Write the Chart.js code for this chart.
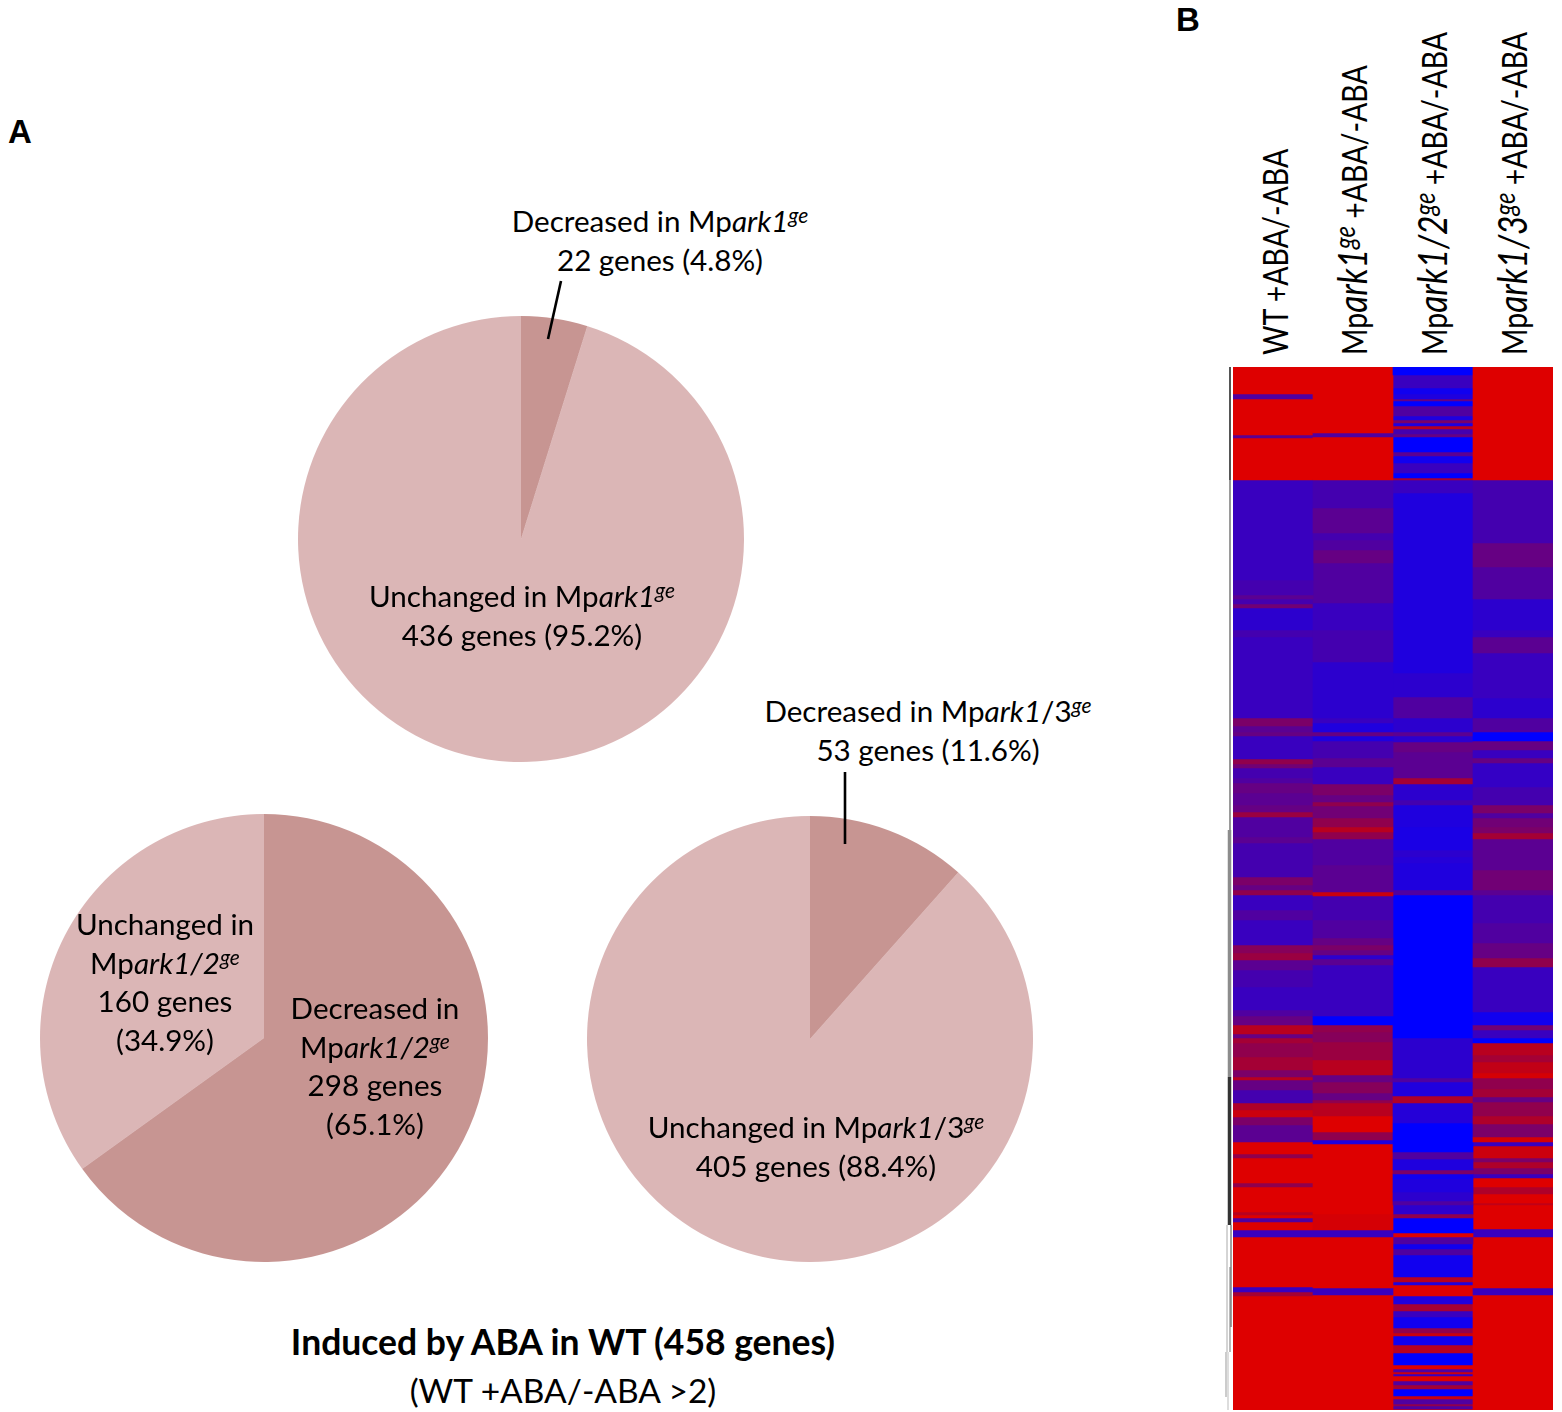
<!DOCTYPE html>
<html>
<head>
<meta charset="utf-8">
<script src="https://cdn.jsdelivr.net/npm/chart.js@4"></script>
<style>
  html, body { margin: 0; padding: 0; background: #fff; }
  #page { position: relative; width: 1562px; height: 1412px; overflow: hidden; font-family: Lato, sans-serif; color: #000; }
  canvas { position: absolute; }
  .note { position: absolute; transform: translateX(-50%); text-align: center; white-space: nowrap; font-size: 29.6px; line-height: 38.6px; }
  .note sup { font-size: 21px; line-height: 0; font-style: italic; vertical-align: 9px; }
  .panel { position: absolute; font-family: "Liberation Sans", sans-serif; font-weight: bold; font-size: 33px; line-height: 33px; }
  .col-label { position: absolute; top: 355px; transform-origin: 0 0; transform: rotate(-90deg) scale(1, 1.2) translateY(-50%); white-space: nowrap; font-size: 28.5px; line-height: 40px; }
  .col-label i { font-size: 33.5px; }
  .col-label sup i { font-size: 24px; }
  .col-label sup { line-height: 0; vertical-align: 10px; }
  #title { font-weight: bold; font-size: 35.5px; }
  #subtitle { font-size: 33.5px; }
  svg { position: absolute; left: 0; top: 0; }
</style>
</head>
<body>
<div id="page"></div>
<script>
const pieCategories = [`Decreased`, `Unchanged`];
const ark1Genes = [22, 436];
const ark12Genes = [298, 160];
const ark13Genes = [53, 405];

const DARK = `#c79592`;
const LIGHT = `#dbb6b6`;

const heatColumns = [`WT +ABA/-ABA`, `Mpark1ge +ABA/-ABA`, `Mpark1/2ge +ABA/-ABA`, `Mpark1/3ge +ABA/-ABA`];
const heatLabels = [
  `WT +ABA/-ABA`,
  `Mp<i>ark1</i><sup><i>ge</i></sup> +ABA/-ABA`,
  `Mp<i>ark1/2</i><sup><i>ge</i></sup> +ABA/-ABA`,
  `Mp<i>ark1/3</i><sup><i>ge</i></sup> +ABA/-ABA`
];

// heatmap bands: [row where the band ends, level 0 (blue) .. 10 (red)]
const wtBands = [[27,10],[32,3],[68,10],[71,3.5],[113,10],[213,2],[228,2.5],[232,3.5],[237,2.5],[241,4.5],[263,1.5],[270,2.5],
  [351,2],[359,5],[365,3.5],[369,4],[392,2],[397,6],[401,4.5],[411,2.5],[416,3],[426,4],[438,3.5],[445,4],[450,6.5],[470,3],
  [476,3.5],[510,2.5],[518,5],[523,4],[528,6],[543,2],[553,3],[578,2],[586,5.5],[593,6.5],[603,3.5],[620,2.5],[643,2],[649,3],
  [658,4],[667,8],[671,4],[676,7],[690,6],[703,7],[710,5],[713,8],[723,4],[736,2.5],[743,7.5],[750,9],[758,5],[775,3.5],
  [787,10],[791,6],[816,10],[820,6],[845,10],[848,8],[851,10],[855,3],[863,10],[870,2],[920,10],[925,2],[929,7],[1043,10]];
const ark1Bands = [[66,10],[70,3],[113,10],[141,2.5],[166,3.5],[173,2.5],[183,3],[196,4],[236,3],[263,2],[295,2.5],[351,1.5],
  [356,2],[365,1],[369,4],[374,1],[391,2.5],[400,3.5],[417,2],[428,5],[435,4],[439,6],[451,4.5],[460,6],[465,8],[472,6],[498,3],
  [525,3.5],[529,9],[553,2.5],[571,3],[578,4],[583,5],[588,4],[592,1.5],[598,3.5],[649,2],[658,0],[665,6],[675,5.5],[693,6.5],
  [708,8],[715,4],[726,5.5],[733,4],[736,6],[749,8],[765,10],[773,6],[777,1],[847,10],[863,9.5],[870,2],[921,10],[928,2],[1043,10]];
const ark12Bands = [[8,0],[21,2],[27,0.5],[32,1],[34,4],[39,0],[49,3],[53,1],[56,5],[59,1],[62,8],[67,2.5],[70,4],[85,0],[89,3.5],
  [96,0.5],[106,2],[111,0],[113,7],[126,2],[306,1],[330,1.5],[351,3],[365,1.5],[369,3.5],[375,1.5],[385,4],[411,3.5],[417,7],
  [433,1.5],[438,2.5],[460,1],[483,0.8],[490,1.5],[496,1.2],[523,1],[528,3],[671,0],[711,1.5],[715,3],[729,1],[736,7.5],[756,1.2],
  [785,0],[792,3],[803,1],[807,5],[812,0.5],[825,1],[834,1.5],[838,3],[847,1.5],[851,6],[866,0],[870,10],[877,3],[882,0.5],
  [888,3],[910,0.5],[915,8],[918,1],[929,10],[937,1],[944,7],[950,2],[961,0.5],[966,6],[969,9],[978,0.5],[986,8],[998,0],
  [1002,10],[1005,3],[1007,9],[1009,2],[1014,10],[1018,3],[1022,7],[1029,0],[1032,9],[1037,3],[1039,6],[1042,3],[1043,8]];
const ark13Bands = [[113,10],[176,2.5],[200,4],[232,3],[263,1.5],[270,2],[286,3.5],[331,2],[351,1.5],[365,3],[374,0],[383,4],
  [391,2],[396,4],[420,1.8],[438,2.5],[446,5],[451,3],[460,4.5],[466,5],[472,7],[503,3.5],[523,4.5],[528,3.5],[556,2.5],[576,3],
  [591,4],[600,6],[645,2],[658,0.5],[663,4.5],[671,2],[676,0],[688,8],[695,7],[706,8.5],[711,9.5],[722,6],[730,7],[735,4],[749,6],
  [757,7.5],[770,5],[775,9.5],[779,2],[791,9],[795,5],[801,7.5],[807,5],[811,2],[820,10],[827,7.5],[836,10],[838,8.5],[862,10],
  [870,2],[921,10],[928,2],[1043,10]];

// dendrogram beside the heatmap: [first row, last row, colour, line width, distance from the heatmap]
const treeLines = [[0,113,`#555555`,2,3],[113,463,`#9a9a9a`,2,3],[463,710,`#8c8c8c`,3.5,3.5],[710,858,`#333333`,3.5,3.5],
  [858,985,`#aaaaaa`,1,6],[858,960,`#444444`,1,2],[900,985,`#777777`,1,3],[985,1043,`#bbbbbb`,1,5],[985,1030,`#999999`,1,7]];

const page = document.getElementById(`page`);

function addNote(x, y, lines, id) {
  const el = document.createElement(`div`);
  el.className = `note`;
  if (id) el.id = id;
  el.style.left = `${x}px`;
  el.style.top = `${y}px`;
  el.innerHTML = lines.join(`<br>`);
  page.appendChild(el);
}

function addPie(cx, cy, r, values, colors) {
  const canvas = document.createElement(`canvas`);
  canvas.style.left = `${cx - r}px`;
  canvas.style.top = `${cy - r}px`;
  page.appendChild(canvas);
  return new Chart(canvas, {
    type: `pie`,
    data: {
      labels: pieCategories,
      datasets: [{data: values, backgroundColor: colors, borderWidth: 0}]
    },
    options: {
      responsive: false,
      animation: false,
      devicePixelRatio: 2,
      layout: {padding: 0},
      plugins: {legend: {display: false}, tooltip: {enabled: false}}
    },
    plugins: [{id: `size`, beforeInit(chart) { chart.resize(r * 2, r * 2); }}]
  });
}

addPie(521, 539, 223, ark1Genes, [DARK, LIGHT]);
addPie(264, 1038, 224, ark12Genes, [DARK, LIGHT]);
addPie(810, 1039, 223, ark13Genes, [DARK, LIGHT]);

// heatmap: one floating-bar dataset per band index
const levelColor = (level) => {
  const t = level / 10;
  return `rgb(${Math.round(222 * Math.pow(t, 0.85))},0,${Math.round(255 * Math.pow(1 - t, 1.3))})`;
};
const heatBands = [wtBands, ark1Bands, ark12Bands, ark13Bands];
const bandCount = Math.max(...heatBands.map((b) => b.length));
const heatDatasets = [];
for (let i = 0; i < bandCount; i++) {
  heatDatasets.push({
    data: heatBands.map((bands) => (bands[i] ? [i ? bands[i - 1][0] : 0, bands[i][0]] : null)),
    backgroundColor: heatBands.map((bands) => (bands[i] ? levelColor(bands[i][1]) : `transparent`)),
    borderWidth: 0,
    borderSkipped: false,
    grouped: false,
    barPercentage: 1,
    categoryPercentage: 1
  });
}

const heatCanvas = document.createElement(`canvas`);
heatCanvas.width = 329;
heatCanvas.height = 1043;
heatCanvas.style.left = `1225px`;
heatCanvas.style.top = `367px`;
page.appendChild(heatCanvas);

const treePlugin = {
  id: `tree`,
  afterDraw(chart) {
    const {ctx, scales: {y}, chartArea} = chart;
    ctx.save();
    treeLines.forEach(([from, to, color, width, gap]) => {
      ctx.strokeStyle = color;
      ctx.lineWidth = width;
      ctx.beginPath();
      ctx.moveTo(chartArea.left - gap, y.getPixelForValue(from));
      ctx.lineTo(chartArea.left - gap, y.getPixelForValue(to));
      ctx.stroke();
    });
    ctx.restore();
  }
};

new Chart(heatCanvas, {
  type: `bar`,
  data: {labels: heatColumns, datasets: heatDatasets},
  options: {
    responsive: false,
    animation: false,
    layout: {padding: {left: 8, right: 1, top: 0, bottom: 0}},
    plugins: {legend: {display: false}, tooltip: {enabled: false}},
    scales: {
      x: {display: false},
      y: {display: false, reverse: true, min: 0, max: 1043}
    }
  },
  plugins: [treePlugin]
});

heatLabels.forEach((label, i) => {
  const el = document.createElement(`div`);
  el.className = `col-label`;
  el.style.left = `${[1275, 1353, 1433, 1513][i]}px`;
  el.innerHTML = label;
  page.appendChild(el);
});

addNote(660, 202, [`Decreased in Mp<i>ark1</i><sup>ge</sup>`, `22 genes (4.8%)`]);
addNote(522, 577, [`Unchanged in Mp<i>ark1</i><sup>ge</sup>`, `436 genes (95.2%)`]);
addNote(165, 905, [`Unchanged in`, `Mp<i>ark1/2</i><sup>ge</sup>`, `160 genes`, `(34.9%)`]);
addNote(375, 989, [`Decreased in`, `Mp<i>ark1/2</i><sup>ge</sup>`, `298 genes`, `(65.1%)`]);
addNote(928, 692, [`Decreased in Mp<i>ark1</i>/3<sup>ge</sup>`, `53 genes (11.6%)`]);
addNote(816, 1108, [`Unchanged in Mp<i>ark1</i>/3<sup>ge</sup>`, `405 genes (88.4%)`]);
addNote(563, 1323, [`Induced by ABA in WT (458 genes)`], `title`);
addNote(563, 1371, [`(WT +ABA/-ABA >2)`], `subtitle`);

[[`A`, 8, 115], [`B`, 1176, 3]].forEach(([text, x, y]) => {
  const el = document.createElement(`div`);
  el.className = `panel`;
  el.textContent = text;
  el.style.left = `${x}px`;
  el.style.top = `${y}px`;
  page.appendChild(el);
});

// leader lines from the labels into the small slices
const leaders = [[561, 281, 548, 339], [845, 772, 845, 844]];
const svgNS = `http://www.w3.org/2000/svg`;
const svg = document.createElementNS(svgNS, `svg`);
svg.setAttribute(`width`, 1562);
svg.setAttribute(`height`, 1412);
leaders.forEach(([x1, y1, x2, y2]) => {
  const line = document.createElementNS(svgNS, `line`);
  line.setAttribute(`x1`, x1);
  line.setAttribute(`y1`, y1);
  line.setAttribute(`x2`, x2);
  line.setAttribute(`y2`, y2);
  line.setAttribute(`stroke`, `#000`);
  line.setAttribute(`stroke-width`, 2.6);
  svg.appendChild(line);
});
page.appendChild(svg);
</script>
</body>
</html>
